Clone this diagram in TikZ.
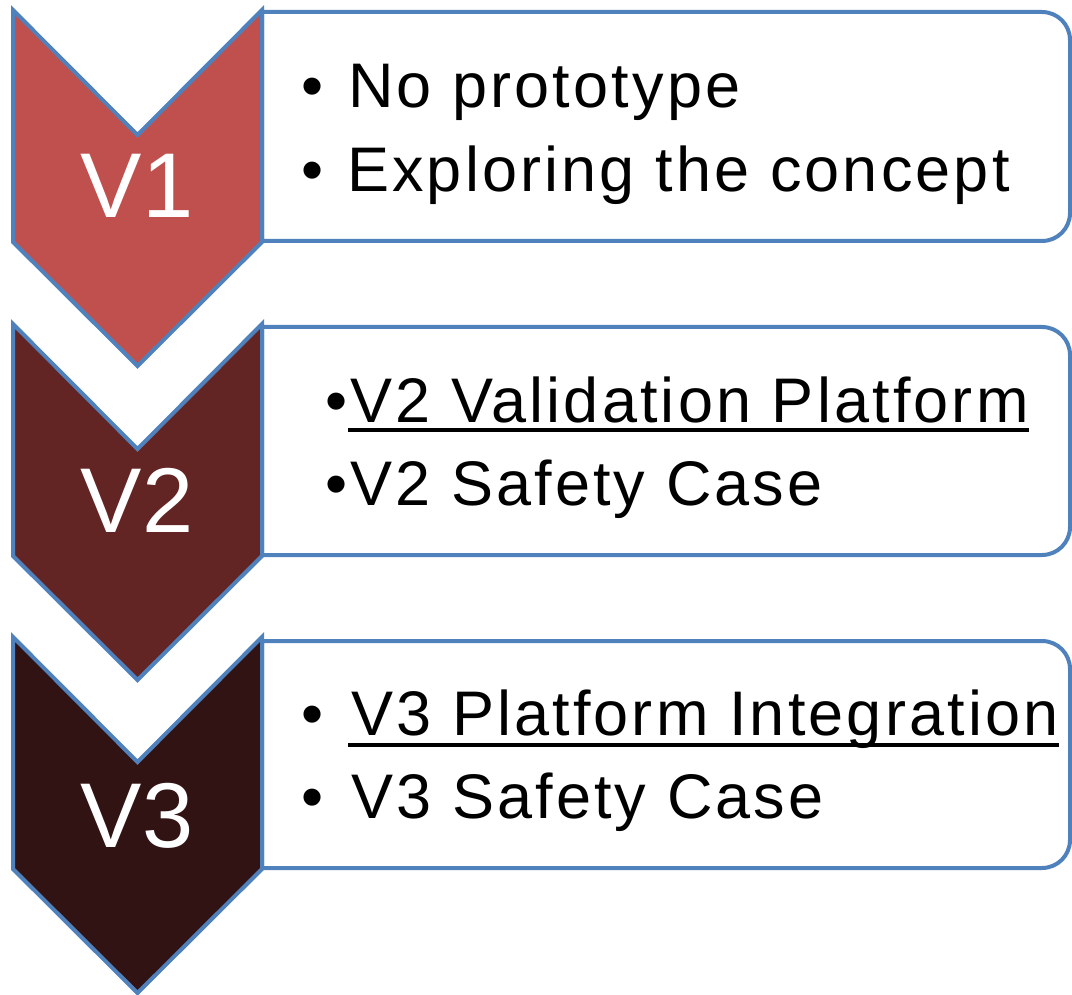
\documentclass[tikz,border=0pt]{standalone}
\usepackage{fontspec}
\setmainfont{Liberation Sans}
\newfontfamily\bodyfont[LetterSpace=5]{Liberation Sans}
\definecolor{edge}{RGB}{79,129,189}
\definecolor{cone}{RGB}{192,80,77}
\definecolor{ctwo}{RGB}{99,37,35}
\definecolor{cthree}{RGB}{50,19,19}
\tikzset{
  chev/.style={draw=edge, line width=4pt, line join=miter},
  boxline/.style={draw=edge, line width=4pt, fill=white},
  vlabel/.style={text=white, inner sep=0pt, anchor=base, font=\fontsize{92}{92}\selectfont},
  bul/.style={inner sep=0pt, anchor=base west, font=\bodyfont\fontsize{63}{63}\selectfont},
  txt/.style={inner sep=0pt, anchor=base west, font=\bodyfont\fontsize{63}{63}\selectfont},
  uline/.style={line width=4.6pt}
}
\begin{document}
\begin{tikzpicture}[x=1pt,y=-1pt]
\useasboundingbox (0,0) rectangle (1072,995);
% boxes
\foreach \t/\b in {12/241, 327/555, 641/868}{
  \draw[boxline] (262,\t) -- (1042,\t) .. controls (1057.5,\t) and (1070,\t+12.5) .. (1070,\t+28)
    -- (1070,\b-28) .. controls (1070,\b-12.5) and (1057.5,\b) .. (1042,\b) -- (262,\b) -- cycle;
}
% chevrons
\foreach \o/\c in {0/cone, 314/ctwo, 627/cthree}{
  \draw[chev, fill=\c] (13,10+\o) -- (137.5,135+\o) -- (262,10+\o) -- (262,242+\o)
    -- (137.5,366+\o) -- (13,242+\o) -- cycle;
}
\node[vlabel] (l1) at (137,218) {V1};
\node[vlabel] (l2) at (137,532) {V2};
\node[vlabel] (l3) at (137,847) {V3};
% box 1
\node[bul] (b1a) at (301,108) {•};
\node[txt] (t1a) at (348,108) {No prototype};
\node[bul] (b1b) at (301,192) {•};
\node[txt] (t1b) at (347,192) {Exploring the concept};
% box 2
\node[bul] (b2a) at (325,422) {•};
\node[txt] (t2a) at (350,422) {V2 Validation Platform};
\node[bul] (b2b) at (325,505) {•};
\node[txt] (t2b) at (350,505) {V2 Safety Case};
\draw[uline] ([xshift=-2pt,yshift=-8pt]t2a.base west) -- ([yshift=-8pt]t2a.base east);
% box 3
\node[bul] (b3a) at (301,735) {•};
\node[txt] (t3a) at (351,735) {V3 Platform Integration};
\node[bul] (b3b) at (301,818) {•};
\node[txt] (t3b) at (351,818) {V3 Safety Case};
\draw[uline] ([xshift=-3pt,yshift=-10pt]t3a.base west) -- ([yshift=-10pt]t3a.base east);
\end{tikzpicture}
\end{document}
